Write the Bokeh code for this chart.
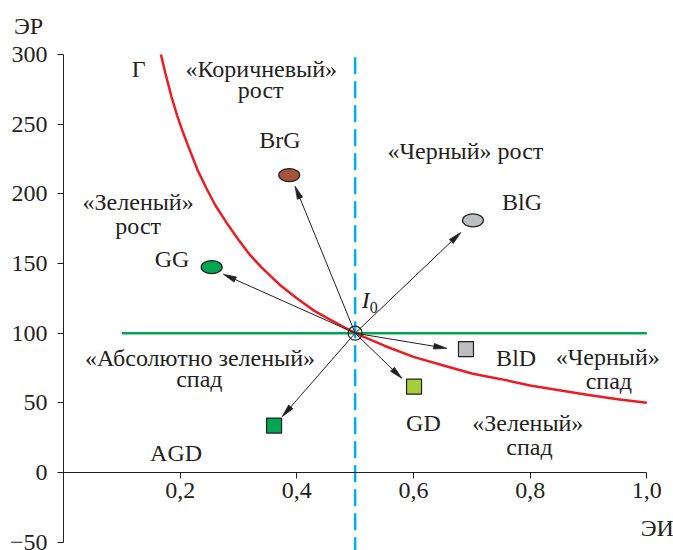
import math
from bokeh.plotting import figure
from bokeh.models import Range1d, LinearAxis, FixedTicker, CustomJSTickFormatter
from bokeh.core.properties import value
from bokeh.embed import file_html
from bokeh.resources import INLINE

# ---------------- data ----------------
x_ticks = [0.2, 0.4, 0.6, 0.8, 1.0]
y_ticks = [-50, 0, 50, 100, 150, 200, 250, 300]

# curve Г
gamma_x = [0.167, 0.175, 0.185, 0.195, 0.205, 0.215, 0.23, 0.245, 0.26, 0.28,
           0.30, 0.32, 0.34, 0.37, 0.40, 0.43, 0.46, 0.50, 0.55, 0.60, 0.65,
           0.70, 0.75, 0.80, 0.85, 0.90, 0.95, 1.00]
gamma_y = [300, 286, 270, 256, 244, 233, 217, 204, 192, 179,
           167, 156, 147, 135, 125, 116, 109, 100, 91, 83, 77,
           71, 67, 62.5, 59, 55.6, 52.6, 50]

# horizontal green level line and vertical dashed line
green_x = [0.1, 1.0]
green_y = [100, 100]
vline_x = [0.5, 0.5]
vline_y = [298, -56]

# point I0
i0_x = 0.5
i0_y = 100

# ellipse points
ell_names = ["BrG", "GG", "BlG"]
ell_x = [0.387, 0.254, 0.702]
ell_y = [213.5, 147.4, 181.0]
ell_colors = ["#a6533c", "#00a651", "#bcbec0"]

# square points
sq_names = ["BlD", "GD", "AGD"]
sq_x = [0.690, 0.601, 0.361]
sq_y = [88.6, 61.6, 33.7]
sq_colors = ["#bcbec0", "#a6ce39", "#00a651"]

# arrow tips (I0 -> point)
arr_names = ["BrG", "GG", "BlG", "BlD", "GD", "AGD"]
arr_x_end = [0.397, 0.274, 0.681, 0.657, 0.580, 0.375]
arr_y_end = [205.5, 142.3, 172.2, 89.1, 67.6, 40.1]

# text annotations
txt = ["Г", "«Коричневый»", "рост", "BrG", "«Зеленый»", "рост", "GG",
       "«Черный» рост", "BlG", "«Абсолютно зеленый»", "спад", "AGD",
       "BlD", "«Черный»", "спад", "GD", "«Зеленый»", "спад", "ЭИ", "ЭР"]
txt_x = [0.129, 0.339, 0.338, 0.371, 0.128, 0.128, 0.186,
         0.689, 0.786, 0.234, 0.233, 0.193,
         0.776, 0.933, 0.935, 0.617, 0.796, 0.799, 1.018, -0.060]
txt_y = [289.7, 289.7, 274.9, 239.0, 194.1, 177.0, 152.9,
         231.0, 194.4, 81.9, 67.1, 14.3,
         82.5, 83.1, 66.0, 35.4, 35.4, 18.2, -39.6, 320.5]

FONT = "Liberation Serif"
INK = "#231f20"
FS = "24px"

W, H = 673, 550
X0, X1 = -0.108, 1.0458
Y0, Y1 = -56, 338.8

# ---------------- figure ----------------
p = figure(width=W, height=H, output_backend="svg", toolbar_location=None,
           x_range=Range1d(X0, X1), y_range=Range1d(Y0, Y1),
           x_axis_location=None, y_axis_location=None,
           min_border_left=0, min_border_right=0, min_border_top=0,
           min_border_bottom=0)
p.grid.visible = False
p.outline_line_color = None
p.background_fill_color = "white"


def style_axis(ax, standoff):
    ax.major_tick_out = 6
    ax.major_tick_in = 0
    ax.minor_tick_line_color = None
    ax.major_label_standoff = standoff
    ax.axis_line_color = INK
    ax.major_tick_line_color = INK
    ax.major_label_text_font = FONT
    ax.major_label_text_font_size = FS
    ax.major_label_text_color = INK


# y axis at x = 0
yax = LinearAxis(ticker=FixedTicker(ticks=y_ticks), bounds=(-50, 300), fixed_location=0)
yax.formatter = CustomJSTickFormatter(
    code="return tick < 0 ? '\u2212' + Math.abs(tick) : '' + tick;")
style_axis(yax, 10)
p.add_layout(yax, "left")

# x axis at y = 0
xax = LinearAxis(ticker=FixedTicker(ticks=x_ticks), bounds=(0, 1.0), fixed_location=0)
xax.formatter = CustomJSTickFormatter(code="return tick.toFixed(1).replace('.', ',');")
style_axis(xax, 5)
p.add_layout(xax, "below")

# lines
p.line(green_x, green_y, line_color="#00a651", line_width=2.5)
p.line(gamma_x, gamma_y, line_color="#ed1c24", line_width=2.5, line_join="round")
p.line(vline_x, vline_y, line_color="#00aeef", line_width=2.5, line_dash="17 7")

# arrows: shaft + slim head built in screen space through the scales
sx = W / (X1 - X0)
sy = H / (Y1 - Y0)
HEAD_L, HEAD_W = 13.0, 2.8
shaft_x1, shaft_y1, head_xs, head_ys = [], [], [], []
for xe, ye in zip(arr_x_end, arr_y_end):
    dx, dy = (xe - i0_x) * sx, (ye - i0_y) * sy
    n = math.hypot(dx, dy)
    ux, uy = dx / n, dy / n
    bx, by = -HEAD_L * ux, -HEAD_L * uy
    nx, ny = -uy * HEAD_W, ux * HEAD_W
    shaft_x1.append(xe + bx / sx)
    shaft_y1.append(ye + by / sy)
    head_xs.append([xe, xe + (bx + nx) / sx, xe + (bx - nx) / sx])
    head_ys.append([ye, ye + (by + ny) / sy, ye + (by - ny) / sy])

p.segment([i0_x] * len(shaft_x1), [i0_y] * len(shaft_y1), shaft_x1, shaft_y1,
          line_color=INK, line_width=1)
p.patches(head_xs, head_ys, fill_color=INK, line_color=INK, line_width=0.8)

# I0 marker
p.scatter([i0_x], [i0_y], marker="circle", size=14, fill_color=None,
          line_color=INK, line_width=1.2)

# points
p.ellipse(ell_x, ell_y, width=21, height=13, width_units="screen",
          height_units="screen", fill_color=ell_colors, line_color=INK, line_width=1.2)
p.scatter(sq_x, sq_y, marker="square", size=15, fill_color=sq_colors,
          line_color=INK, line_width=1.2)

# texts
p.text(txt_x, txt_y, text=txt, text_font=value(FONT), text_font_size=FS,
       text_color=INK, text_align="center", text_baseline="middle")

# I0 label
p.text([0.518], [123.7], text=["I"], text_font=value(FONT), text_font_size=FS,
       text_font_style="italic", text_color=INK, text_align="center",
       text_baseline="middle")
p.text([0.518], [123.7], text=["0"], text_font=value(FONT), text_font_size="16px",
       text_color=INK, text_align="left", text_baseline="middle",
       x_offset=4, y_offset=7)

open("out.html", "w").write(file_html(p, INLINE))
